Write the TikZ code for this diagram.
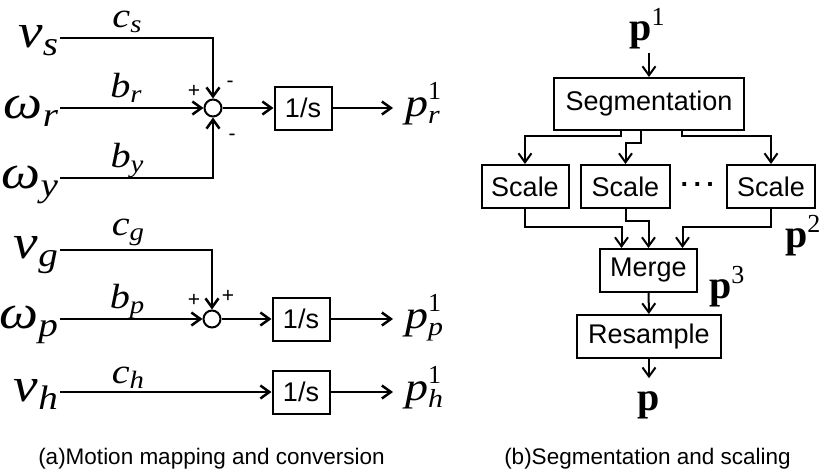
\documentclass[tikz,border=0pt]{standalone}
\usepackage{fontspec}
\setmainfont{Liberation Sans}
\newfontfamily\varfont[FakeStretch=1.15]{Liberation Serif Italic}
\newfontfamily\serifup{Liberation Serif}
\usetikzlibrary{arrows.meta,positioning,calc}

\newcommand{\insig}[2]{{\varfont\fontsize{48}{48}\selectfont #1\raisebox{-8pt}{\fontsize{34}{34}\selectfont #2}}}
\newcommand{\gain}[2]{{\varfont\fontsize{35}{35}\selectfont #1\raisebox{-5pt}{\fontsize{25}{25}\selectfont #2}}}
\newcommand{\outsig}[1]{{\varfont\fontsize{40}{40}\selectfont p}\rlap{\raisebox{17pt}{\serifup\fontsize{26}{26}\selectfont 1}}\raisebox{-7pt}{\varfont\fontsize{26}{26}\selectfont #1}}
\newcommand{\pvec}[1]{{\serifup\bfseries\fontsize{40}{40}\selectfont p}\raisebox{15pt}{\serifup\fontsize{26}{26}\selectfont #1}}

\begin{document}
\begin{tikzpicture}[x=1pt, y=-1pt, line width=2.5pt,
        arr/.style={-{Straight Barb[length=9pt,width=13pt]}},
        lbl/.style={inner sep=0pt, outer sep=2pt},
        plbl/.style={inner sep=0pt, outer sep=12pt},
        vlbl/.style={inner sep=0pt, outer sep=4pt},
        blk/.style={draw, line width=2pt, minimum width=57pt, minimum height=43pt, inner sep=0pt, font=\fontsize{27}{27}\selectfont},
        stage/.style={draw, line width=2pt, minimum height=43pt, inner sep=0pt, font=\fontsize{27}{27}\selectfont},
        sum/.style={draw, circle, line width=2pt, minimum size=17pt, inner sep=0pt},
        sgn/.style={inner sep=0pt, font=\fontsize{21}{21}\selectfont},
        captext/.style={inner sep=0pt, anchor=base west, font=\fontsize{22.5}{27}\selectfont}]
    \useasboundingbox (0,0) rectangle (820,475);

    % (a) motion mapping - inputs, gains and integrators
    \node[lbl, anchor=base east] (vs) at (60,47)  {\insig{v}{s}};
    \node[lbl, anchor=base east] (wr) at (60,118) {\insig{ω}{r}};
    \node[lbl, anchor=base east] (wy) at (60,188) {\insig{ω}{y}};
    \node[lbl, anchor=base east] (vg) at (60,258) {\insig{v}{g}};
    \node[lbl, anchor=base east] (wp) at (60,328) {\insig{ω}{p}};
    \node[lbl, anchor=base east] (vh) at (60,401) {\insig{v}{h}};

    \node[lbl, anchor=base] (gcs) at (127,27)  {\gain{c}{s}};
    \node[lbl, anchor=base] (gbr) at (126,97)  {\gain{b}{r}};
    \node[lbl, anchor=base] (gby) at (127,167) {\gain{b}{y}};
    \node[lbl, anchor=base] (gcg) at (128,235) {\gain{c}{g}};
    \node[lbl, anchor=base] (gbp) at (127,308) {\gain{b}{p}};
    \node[lbl, anchor=base] (gch) at (128,383) {\gain{c}{h}};

    \node[sum] (sa) at (213,108) {};                       % roll summing point
    \node[sum] (sb) at (212,319) {};                       % pitch summing point
    \coordinate (cs) at (213,38);
    \coordinate (cy) at (213,178);
    \coordinate (cg) at (212,250);

    \node[sgn] (sa1) at (194,91)  {+};
    \node[sgn] (sa2) at (230,84)  {-};
    \node[sgn] (sa3) at (232,137) {-};
    \node[sgn] (sb1) at (194,300) {+};
    \node[sgn] (sb2) at (228,296) {+};

    \node[blk] (ia) at (303,108) {1/s};
    \node[blk] (ib) at (301,319) {1/s};
    \node[blk] (ic) at (301,392) {1/s};

    \node[plbl, anchor=base west] (pr) at (393,116) {\outsig{r}};
    \node[plbl, anchor=base west] (pp) at (393,328) {\outsig{p}};
    \node[plbl, anchor=base west] (ph) at (393,400) {\outsig{h}};

    \draw[arr] (vs.east |- cs) -- (cs) -- (sa.north);      % c_s into the top of the sum
    \draw[arr] (wr.east |- sa) -- (sa.west);
    \draw[arr] (wy.east |- cy) -- (cy) -- (sa.south);      % b_y into the bottom of the sum
    \draw[arr] (sa.east) -- (ia.west);
    \draw[arr] (ia.east) -- (pr.west |- ia);
    \draw[arr] (vg.east |- cg) -- (cg) -- (sb.north);
    \draw[arr] (wp.east |- sb) -- (sb.west);
    \draw[arr] (sb.east) -- (ib.west);
    \draw[arr] (ib.east) -- (pp.west |- ib);
    \draw[arr] (vh.east |- ic) -- (ic.west);
    \draw[arr] (ic.east) -- (ph.west |- ic);

    % (b) segmentation and scaling
    \begin{scope}[line width=2pt]
    \node[vlbl, anchor=base] (p1) at (647,40) {\pvec{1}};
    \node[stage, minimum width=190pt, minimum height=52pt] (seg) at (649,104) {Segmentation};
    \node[stage, minimum width=87pt] (sc1) at (525,186.5) {Scale};
    \node[stage, minimum width=89pt] (sc2) at (625.5,186.5) {Scale};
    \node[stage, minimum width=88pt] (sc3) at (771,186.5) {Scale};
    \node[inner sep=0pt, anchor=base, font=\fontsize{27}{27}\selectfont\bfseries] (dots) at (698,193) {·\kern4pt·\kern4pt·};
    \node[stage, minimum width=97pt] (mrg) at (648.5,270.5) {Merge};
    \node[stage, minimum width=144pt] (rsm) at (649,336.5) {Resample};
    \node[vlbl, anchor=base, outer sep=13pt] (p) at (649,410) {\pvec{}};
    \node[vlbl, anchor=base west] (p2) at (781,247) {\pvec{2}};
    \node[vlbl, anchor=base west] (p3) at (705,298) {\pvec{3}};

    \draw[arr] (p1.south -| seg.north) -- (seg.north);
    \draw[arr] ([xshift=-28pt]seg.south) -- ++(0,5) -| (sc1.north);
    \draw[arr] ([xshift=-8pt]seg.south) -- ++(0,12) -| (sc2.north);
    \draw[arr] ([xshift=33pt]seg.south) -- ++(0,5) -| (sc3.north);
    \draw[arr] (sc1.south) -- ++(0,18) -| ([xshift=-27pt]mrg.north);
    \draw[arr] (sc2.south) -- ++(0,12) -| (mrg.north);
    \draw[arr] (sc3.south) -- ++(0,18) -| ([xshift=34pt]mrg.north);
    \draw[arr] (mrg) -- (rsm);
    \draw[arr] (rsm) -- (p);
    \end{scope}

    % captions
    \node[captext] (capa) at (37,464)  {(a)Motion mapping and conversion};
    \node[captext] (capb) at (503,464) {(b)Segmentation and scaling};
\end{tikzpicture}
\end{document}
